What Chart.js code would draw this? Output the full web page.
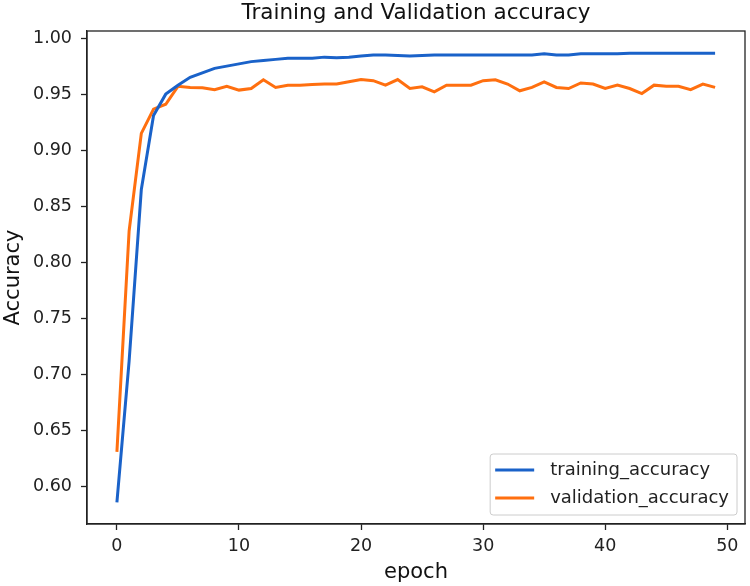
<!DOCTYPE html>
<html>
<head>
<meta charset="utf-8">
<title>Training and Validation accuracy</title>
<script src="https://cdn.jsdelivr.net/npm/chart.js@4.4.1/dist/chart.umd.min.js"></script>
<style>
  body { margin: 0; background: #fff; }
  canvas { display: block; }
</style>
</head>
<body>
<canvas id="accChart" width="750" height="586"></canvas>
<script>
const epochs = [0,1,2,3,4,5,6,7,8,9,10,11,12,13,14,15,16,17,18,19,20,21,22,23,24,25,26,27,28,29,30,31,32,33,34,35,36,37,38,39,40,41,42,43,44,45,46,47,48,49];

const training_accuracy = [0.586,0.712,0.865,0.931,0.950,0.958,0.965,0.969,0.973,0.975,
  0.977,0.979,0.980,0.981,0.982,0.982,0.982,0.983,0.9825,0.983,
  0.984,0.985,0.985,0.9845,0.984,0.9845,0.985,0.985,0.985,0.985,
  0.985,0.985,0.985,0.985,0.985,0.986,0.985,0.985,0.986,0.986,
  0.986,0.986,0.9865,0.9865,0.9865,0.9865,0.9865,0.9865,0.9865,0.9865];

const validation_accuracy = [0.631,0.828,0.915,0.9366,0.941,0.957,0.956,0.9557,0.954,0.957,
  0.9536,0.955,0.9628,0.956,0.958,0.958,0.9585,0.959,0.959,0.961,
  0.963,0.962,0.958,0.963,0.955,0.9565,0.952,0.958,0.958,0.958,
  0.962,0.9628,0.959,0.953,0.956,0.961,0.956,0.955,0.960,0.959,
  0.955,0.958,0.955,0.9505,0.958,0.957,0.957,0.954,0.959,0.956];

const seriesNames = ["training_accuracy", "validation_accuracy"];
const FONT = "'DejaVu Sans', sans-serif";

// matplotlib style frame round the plot
const framePlugin = {
  id: "frame",
  afterDraw(chart) {
    const a = chart.chartArea, ctx = chart.ctx;
    ctx.save();
    ctx.strokeStyle = "#222";
    ctx.lineWidth = 1.3;
    ctx.strokeRect(a.left, a.top, a.right - a.left, a.bottom - a.top);
    ctx.restore();
  }
};

// legend box in the lower right corner, inside the axes
const cornerLegend = {
  id: "cornerLegend",
  afterDraw(chart) {
    const a = chart.chartArea, ctx = chart.ctx;
    const sets = chart.data.datasets;
    ctx.save();
    ctx.font = "18px " + FONT;
    let tw = 0;
    sets.forEach(d => { tw = Math.max(tw, ctx.measureText(d.label).width); });
    const w = 5 + 40 + 15 + tw + 8, rowH = 28, h = sets.length * rowH + 5;
    const x = a.right - 8 - w, y = a.bottom - 9 - h;
    ctx.beginPath();
    ctx.roundRect(x, y, w, h, 3);
    ctx.fillStyle = "rgba(255,255,255,0.85)";
    ctx.fill();
    ctx.strokeStyle = "#cccccc";
    ctx.lineWidth = 1;
    ctx.stroke();
    sets.forEach((d, i) => {
      const cy = y + 16 + i * rowH;
      ctx.beginPath();
      ctx.moveTo(x + 5, cy);
      ctx.lineTo(x + 44, cy);
      ctx.strokeStyle = d.borderColor;
      ctx.lineWidth = 3;
      ctx.stroke();
      ctx.fillStyle = "#222";
      ctx.textBaseline = "middle";
      ctx.textAlign = "left";
      ctx.fillText(d.label, x + 60, cy);
    });
    ctx.restore();
  }
};

new Chart(document.getElementById("accChart"), {
  type: "line",
  data: {
    datasets: [
      {
        label: seriesNames[0],
        data: training_accuracy.map((v, i) => ({ x: epochs[i], y: v })),
        borderColor: "#1a62c9",
        borderWidth: 3,
        pointRadius: 0,
        tension: 0,
        fill: false
      },
      {
        label: seriesNames[1],
        data: validation_accuracy.map((v, i) => ({ x: epochs[i], y: v })),
        borderColor: "#ff6f0f",
        borderWidth: 3,
        pointRadius: 0,
        tension: 0,
        fill: false
      }
    ]
  },
  options: {
    responsive: false,
    animation: false,
    layout: { padding: { left: 0, right: 5, top: 0, bottom: 0 } },
    plugins: {
      legend: { display: false },
      tooltip: { enabled: false },
      title: {
        display: true,
        text: "Training and Validation accuracy",
        fullSize: false,
        color: "#111",
        font: { family: FONT, size: 21.5, weight: "normal" },
        padding: { top: 1, bottom: 4.2 }
      }
    },
    scales: {
      x: {
        type: "linear",
        min: -2.45,
        max: 51.45,
        afterFit(scale) { scale.height = 62; },
        grid: { drawOnChartArea: false, tickLength: 6, color: "#222", tickWidth: 1.3 },
        border: { display: true, color: "#222", width: 1.3 },
        ticks: {
          stepSize: 10,
          includeBounds: false,
          padding: 6,
          color: "#222",
          font: { family: FONT, size: 17.5 },
          maxRotation: 0
        },
        title: {
          display: true,
          text: "epoch",
          color: "#111",
          font: { family: FONT, size: 21 },
          padding: { top: 0, bottom: 1 }
        }
      },
      y: {
        min: 0.5667,
        max: 1.0063,
        afterFit(scale) { scale.width = 87; },
        grid: { drawOnChartArea: false, tickLength: 6, color: "#222", tickWidth: 1.3 },
        border: { display: true, color: "#222", width: 1.3 },
        ticks: {
          stepSize: 0.05,
          includeBounds: false,
          padding: 9,
          color: "#222",
          font: { family: FONT, size: 17.5 },
          callback: v => v.toFixed(2)
        },
        title: {
          display: true,
          text: "Accuracy",
          color: "#111",
          font: { family: FONT, size: 21 },
          padding: { top: 1, bottom: 0 }
        }
      }
    }
  },
  plugins: [framePlugin, cornerLegend]
});
</script>
</body>
</html>
